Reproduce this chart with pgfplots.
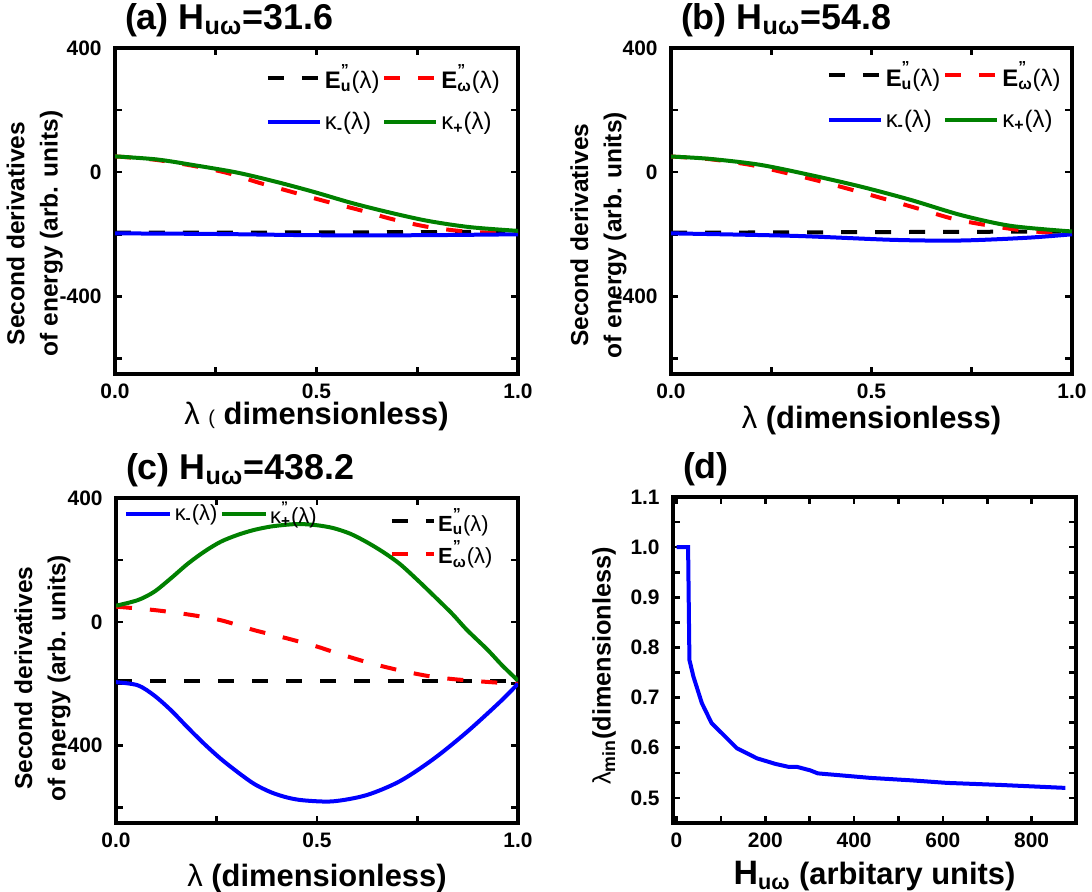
\documentclass[border=0pt]{standalone}
\usepackage{fontspec}
\setmainfont{Liberation Sans}
\usepackage{pgfplots}
\pgfplotsset{compat=1.18}
\definecolor{cblue}{RGB}{0,0,255}
\definecolor{cgreen}{RGB}{0,128,0}
\definecolor{cred}{RGB}{255,0,0}
\newcommand{\fs}[1]{\fontsize{#1}{#1}\selectfont}
\newcommand{\Epp}[1]{\textbf{E}\rlap{\raisebox{0.55em}{\bfseries\fs{8}"}}\textsubscript{\bfseries #1}{\mdseries(λ)}}
\newcommand{\Kap}[1]{{\mdseries κ}\textsubscript{\bfseries #1}{\mdseries(λ)}}
\newcommand{\Kapp}[1]{{\mdseries κ}\rlap{\raisebox{0.55em}{\bfseries\fs{7}"}}\textsubscript{\bfseries #1}{\mdseries(λ)}}
\pgfplotsset{
  every axis/.append style={
    scale only axis,
    axis line style={line width=1.6bp},
    every tick/.append style={black, line width=1.3bp},
    every minor tick/.append style={black, line width=1.3bp},
    major tick length=3.5bp, minor tick length=3.5bp,
    tick align=inside,
    tick label style={font=\bfseries\fs{10.5}, inner sep=1bp},
    xticklabel style={yshift=-3.5bp},
    yticklabel style={xshift=-5.5bp},
    legend cell align=left,
    every axis title shift=0pt,
    title style={at={(axis description cs:0,1)}, anchor=base west, yshift=9.5bp, xshift=1.5bp, font=\bfseries\fs{18}},
    xlabel style={anchor=base, font=\bfseries\fs{15.5}},
    ylabel style={anchor=center, align=center, font=\bfseries\fontsize{12.3}{16.7}\selectfont},
  },
  energy/.style={
    xmin=0, xmax=1, ymin=-650, ymax=400,
    xtick={0,0.5,1}, xticklabels={0.0,0.5,1.0}, minor xtick={0.25,0.75},
    ytick={-400,0,400}, yticklabels={-400,0,400}, minor ytick={-600,-200,200},
    ylabel={Second derivatives\\of energy (arb. units)},
  },
  Eu/.style={black, line width=2bp, dash pattern=on 8bp off 9bp},
  Ew/.style={cred, line width=2bp, dash pattern=on 8bp off 9bp},
  Km/.style={cblue, line width=2bp},
  Kp/.style={cgreen, line width=2bp},
}
\begin{document}
\begin{tikzpicture}
% ---------------- (a)
\begin{axis}[energy, at={(57.5bp,-24bp)}, anchor=north west, width=201.5bp, height=163bp,
  title={(a) H\textsubscript{uω}=31.6},
  xlabel={{\mdseries λ} {\mdseries\fs{10}(} dimensionless)},
  xlabel style={at={(axis description cs:0.5,-0.156)}},
  ylabel style={at={(axis description cs:-0.199,0.431)}},
  legend style={at={(0.978,0.973)}, anchor=north east, draw=none, fill=none,
    legend columns=2, font=\fs{12}, row sep=7.5bp, nodes={inner sep=1.5bp}},
  legend image code/.code={\draw[#1] (0bp,0bp) -- (26bp,0bp);},
]
\addplot[Eu] coordinates {(0,-195) (0.5,-194) (1,-192)};
\addlegendentry{\Epp{u}}
\addplot[Ew, smooth] coordinates {(0,51) (0.1,40) (0.2,19) (0.28,-3) (0.36,-35) (0.44,-64) (0.52,-93) (0.61,-123) (0.69,-152) (0.78,-177) (0.87,-191) (0.94,-195) (1.0,-196)};
\addlegendentry{\Epp{ω}}
\addplot[Km, smooth] coordinates {(0,-197) (0.25,-199) (0.5,-203) (0.75,-203) (1.0,-200)};
\addlegendentry{\Kap{-}}
\addplot[Kp, smooth] coordinates {(0,51) (0.104,41) (0.199,22) (0.302,-1) (0.397,-30) (0.492,-63) (0.587,-99) (0.682,-130) (0.777,-157) (0.881,-177) (1.0,-189)};
\addlegendentry{\Kap{+}}
\end{axis}
% ---------------- (b)
\begin{axis}[energy, at={(335.5bp,-24bp)}, anchor=north west, width=200.5bp, height=163bp,
  title={(b) H\textsubscript{uω}=54.8},
  xlabel={{\mdseries λ} (dimensionless)},
  xlabel style={at={(axis description cs:0.5,-0.166)}},
  ylabel style={at={(axis description cs:-0.181,0.426)}},
  legend style={at={(0.995,0.98)}, anchor=north east, draw=none, fill=none,
    legend columns=2, font=\fs{12}, row sep=7.5bp, nodes={inner sep=1.5bp}},
  legend image code/.code={\draw[#1] (0bp,0bp) -- (26bp,0bp);},
]
\addplot[Eu] coordinates {(0,-195) (0.5,-193) (1,-191)};
\addlegendentry{\Epp{u}}
\addplot[Ew, smooth] coordinates {(0,50.5) (0.096,42) (0.196,24) (0.272,2) (0.359,-25) (0.449,-56) (0.535,-87) (0.621,-119) (0.706,-151) (0.794,-172) (0.88,-188) (0.965,-196) (1.0,-197)};
\addlegendentry{\Epp{ω}}
\addplot[Km, smooth] coordinates {(0,-197) (0.305,-205) (0.556,-218) (0.723,-220) (0.89,-211) (1.0,-200)};
\addlegendentry{\Kap{-}}
\addplot[Kp, smooth] coordinates {(0,50.5) (0.096,43) (0.221,24) (0.347,-9) (0.472,-46) (0.597,-89) (0.723,-138) (0.848,-173) (1.0,-191)};
\addlegendentry{\Kap{+}}
\end{axis}
% ---------------- (c)
\begin{axis}[energy, at={(58bp,-249bp)}, anchor=north west, width=201bp, height=162.5bp,
  title={(c) H\textsubscript{uω}=438.2},
  xlabel={{\mdseries λ} (dimensionless)},
  xlabel style={at={(axis description cs:0.5,-0.196)}},
  ylabel style={at={(axis description cs:-0.183,0.446)}},
  legend style={at={(0.005,1.01)}, anchor=north west, draw=none, fill=none,
    legend columns=2, font=\fs{11}, nodes={inner sep=1.2bp}},
  legend image code/.code={\draw[#1] (0bp,0bp) -- (22bp,0bp);},
]
\addplot[Eu, forget plot] coordinates {(0,-192) (0.5,-192) (1,-192)};
\addplot[Ew, smooth, forget plot] coordinates {(0,49) (0.095,38) (0.178,24) (0.261,5) (0.344,-27) (0.427,-54) (0.5,-80) (0.54,-97) (0.623,-130) (0.706,-157) (0.79,-178) (0.872,-189) (0.955,-197) (1.0,-200)};
\addplot[Km, smooth] coordinates {(0,-195) (0.054,-205) (0.095,-238) (0.137,-286) (0.178,-341) (0.22,-395) (0.261,-443) (0.303,-486) (0.344,-524) (0.386,-551) (0.427,-568) (0.468,-577) (0.54,-580) (0.623,-560) (0.706,-515) (0.79,-443) (0.872,-357) (0.955,-259) (1.0,-200)};
\addlegendentry{\Kap{-}}
\addplot[Kp, smooth] coordinates {(0,52) (0.054,70) (0.095,97) (0.137,141) (0.178,187) (0.22,227) (0.261,259) (0.303,281) (0.344,297) (0.386,308) (0.427,314) (0.458,316) (0.5,312) (0.54,303) (0.582,285) (0.623,258) (0.665,225) (0.706,187) (0.75,135) (0.79,85) (0.837,25) (0.872,-25) (0.924,-90) (0.96,-140) (1.0,-190)};
\addlegendentry{\Kapp{+}}
\end{axis}
\begin{axis}[at={(58bp,-249bp)}, anchor=north west, width=201bp, height=162.5bp,
  hide axis, xmin=0, xmax=1, ymin=-650, ymax=400,
  legend style={at={(0.958,0.99)}, anchor=north east, draw=none, fill=none,
    legend columns=1, font=\fs{11}, row sep=1bp, nodes={inner sep=1.2bp}},
  legend image code/.code={\draw[#1] (0bp,0bp) -- (21bp,0bp);},
]
\addlegendimage{Eu}
\addlegendentry{\Epp{u}}
\addlegendimage{Ew}
\addlegendentry{\Epp{ω}}
\end{axis}
% ---------------- (d)
\begin{axis}[at={(336.5bp,-248.5bp)}, anchor=north west, width=201.5bp, height=163bp,
  title={(d)},
  xmin=-8, xmax=900, ymin=0.45, ymax=1.1,
  xtick={0,200,400,600,800}, xticklabels={0,200,400,600,800}, minor xtick={100,300,500,700},
  ytick={0.5,0.6,0.7,0.8,0.9,1.0,1.1}, yticklabels={0.5,0.6,0.7,0.8,0.9,1.0,1.1},
  minor ytick={0.55,0.65,0.75,0.85,0.95,1.05},
  xlabel={{\fs{17}H}\textsubscript{uω} (arbitary units)},
  xlabel style={at={(axis description cs:0.5,-0.19)}},
  ylabel={{\mdseries λ}\textsubscript{min}(dimensionless)},
  ylabel style={at={(axis description cs:-0.171,0.482)}, font=\bfseries\fs{12.7}},
]
\addplot[Km] coordinates {(0,1.0) (26,1.0) (29,0.775) (38,0.742) (57,0.689) (79,0.649) (102,0.629) (136,0.599) (181,0.579) (211,0.571) (222,0.568) (252,0.562) (271,0.562) (301,0.555) (318,0.549) (397,0.543) (436,0.540) (530,0.535) (609,0.530) (727,0.526) (876,0.520)};
\end{axis}
\pgfresetboundingbox
\useasboundingbox (0,0) rectangle (546bp,-446bp);
\end{tikzpicture}
\end{document}
